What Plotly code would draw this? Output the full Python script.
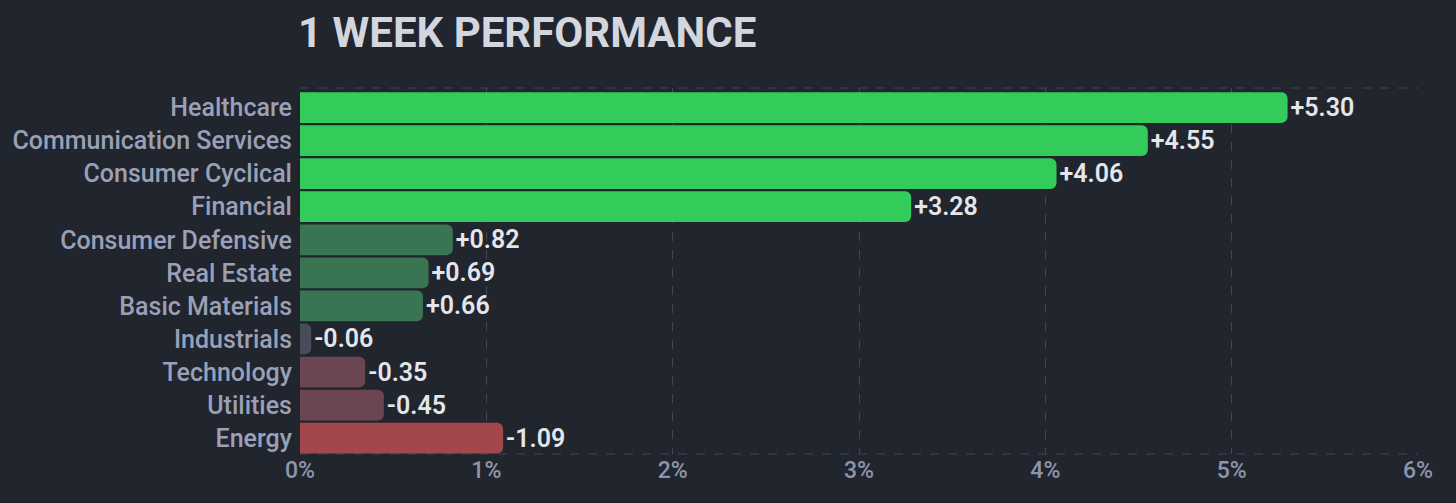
import plotly.graph_objects as go

# sector weekly performance (%)
sectors = ['Healthcare', 'Communication Services', 'Consumer Cyclical', 'Financial',
           'Consumer Defensive', 'Real Estate', 'Basic Materials', 'Industrials',
           'Technology', 'Utilities', 'Energy']
perf = [5.30, 4.55, 4.06, 3.28, 0.82, 0.69, 0.66, -0.06, -0.35, -0.45, -1.09]
x_ticks = [0, 1, 2, 3, 4, 5, 6]
x_tick_labels = ['0%', '1%', '2%', '3%', '4%', '5%', '6%']


def bar_color(v):
    if v >= 1:
        return '#33cc5a'
    if v >= 0.1:
        return '#397552'
    if v > -0.1:
        return '#484c5b'
    if v > -1:
        return '#6b4552'
    return '#a2474c'


bg = '#21252e'
grid = '#414652'

fig = go.Figure(go.Bar(
    y=sectors,
    x=[abs(v) for v in perf],
    orientation='h',
    marker=dict(color=[bar_color(v) for v in perf], cornerradius=6, line=dict(width=0)),
    text=['%+.2f' % v for v in perf],
    textposition='outside',
    textfont=dict(family='Roboto', size=25, color='#e4e6eb', weight=600),
    cliponaxis=False,
    hoverinfo='skip',
))

fig.update_layout(
    width=1456, height=503,
    paper_bgcolor=bg, plot_bgcolor=bg,
    margin=dict(l=300, r=38, t=88, b=49),
    bargap=0.07,
    showlegend=False,
    title=dict(text='1 WEEK PERFORMANCE', x=298 / 1456, xanchor='left', y=0.935, yanchor='middle',
               font=dict(family='Roboto', size=42, color='#d3d6de', weight=700)),
    font=dict(family='Roboto'),
)
fig.update_xaxes(range=[0, 6], tickvals=x_ticks, ticktext=x_tick_labels,
                 showgrid=True, gridcolor=grid, griddash='dash', gridwidth=1,
                 zeroline=False, showline=False,
                 tickfont=dict(size=23, color='#8e95ab', weight=500),
                 ticks='', ticklen=0)
fig.update_yaxes(range=[10.48, -0.59], showgrid=False, zeroline=False, showline=False,
                 tickfont=dict(size=25, color='#9aa0b8', weight=500),
                 ticks='outside', ticklen=2, tickcolor=bg)

# dashed frame top/bottom
for yy in (0, 1):
    fig.add_shape(type='line', xref='paper', yref='paper', x0=0, x1=1, y0=yy, y1=yy,
                  line=dict(color=grid, width=1, dash='dash'), layer='below')

fig.write_html('out.html', config={'displayModeBar': False},
               post_script="document.body.style.margin='0';")
